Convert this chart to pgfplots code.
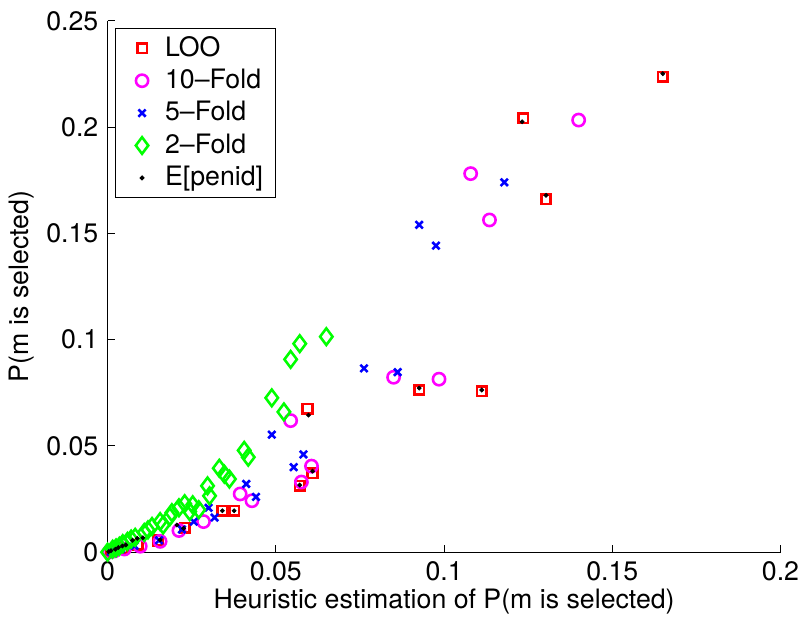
\documentclass[border=0pt]{standalone}
\usepackage{fontspec}
\setmainfont{TeX Gyre Heros}
\usepackage{pgfplots}
\pgfplotsset{compat=1.18}
\definecolor{mred}{rgb}{1,0,0}
\definecolor{mmag}{rgb}{1,0,1}
\definecolor{mblue}{rgb}{0,0,1}
\definecolor{mgreen}{rgb}{0,1,0}
\begin{document}
\fontsize{13.5}{16}\selectfont
\begin{tikzpicture}
\begin{axis}[
  scale only axis, width=340pt, height=268.5pt,
  xmin=0, xmax=0.2, ymin=0, ymax=0.25,
  axis x line*=bottom, axis y line*=left,
  axis line style={black, line width=0.5pt},
  tick align=inside, major tick length=3.5pt,
  tick style={black, line width=0.5pt},
  xtick={0,0.05,0.1,0.15,0.2}, xticklabels={0,0.05,0.1,0.15,0.2},
  ytick={0,0.05,0.1,0.15,0.2,0.25}, yticklabels={0,0.05,0.1,0.15,0.2,0.25},
  ticklabel style={font=\fontsize{13.5}{16}\selectfont},
  xlabel={Heuristic estimation of P(m is selected)},
  ylabel={P(m is selected)},
  label style={font=\fontsize{13.5}{16}\selectfont},
  xlabel style={at={(axis description cs:0.5,0)}, anchor=center, yshift=-25pt},
  ylabel style={at={(axis description cs:-0.128,0.5)}, anchor=center},
  clip=false,
  legend style={at={(axis description cs:0.0103,0.987)}, anchor=north west,
    draw=black, line width=0.5pt, inner xsep=4pt, inner ysep=2pt,
    font=\fontsize{13.5}{16}\selectfont, row sep=0.5pt},
  legend cell align=left,
  legend image code/.code={\path (0pt,0pt) (18pt,0pt);
    \draw[mark repeat=2,mark phase=2,#1] plot coordinates {(0pt,0pt)(9pt,0pt)(18pt,0pt)};},
]
\addplot[only marks, mark=square, mark size=2.4pt, mred, line width=1.3pt] table {
0.1650 0.2237
0.1235 0.2042
0.1303 0.1660
0.0926 0.0763
0.1112 0.0758
0.0594 0.0674
0.0609 0.0372
0.0571 0.0312
0.0376 0.0195
0.0341 0.0195
0.0229 0.0116
0.0150 0.0055
0.0090 0.0035
0.0045 0.0018
0.0010 0.0004
};
\addlegendentry{LOO}
\addplot[only marks, mark=o, mark size=3.1pt, mmag, line width=1.3pt] table {
0.1400 0.2033
0.1079 0.1781
0.1135 0.1563
0.0850 0.0823
0.0985 0.0814
0.0544 0.0619
0.0606 0.0405
0.0576 0.0330
0.0429 0.0242
0.0394 0.0274
0.0285 0.0144
0.0212 0.0102
0.0156 0.0051
0.0097 0.0028
0.0050 0.0015
0.0020 0.0006
0.0005 0.0001
};
\addlegendentry{10--Fold}
\addplot[only marks, mark=x, mark size=2.6pt, mblue, line width=1.3pt] table {
0.1179 0.1740
0.0926 0.1540
0.0976 0.1442
0.0762 0.0865
0.0862 0.0847
0.0488 0.0553
0.0582 0.0460
0.0553 0.0400
0.0412 0.0321
0.0441 0.0260
0.0318 0.0163
0.0300 0.0209
0.0256 0.0144
0.0221 0.0107
0.0153 0.0056
0.0080 0.0030
0.0040 0.0015
0.0010 0.0003
};
\addlegendentry{5--Fold}
\addplot[only marks, mark=diamond, mark size=4.2pt, mgreen, line width=1.3pt] table {
0.0650 0.1014
0.0571 0.0981
0.0544 0.0907
0.0488 0.0726
0.0524 0.0660
0.0418 0.0447
0.0406 0.0479
0.0332 0.0395
0.0347 0.0367
0.0362 0.0344
0.0297 0.0312
0.0303 0.0265
0.0229 0.0228
0.0253 0.0223
0.0271 0.0200
0.0244 0.0191
0.0191 0.0186
0.0212 0.0209
0.0185 0.0167
0.0165 0.0128
0.0156 0.0144
0.0132 0.0121
0.0120 0.0105
0.0109 0.0093
0.0082 0.0070
0.0070 0.0062
0.0059 0.0051
0.0045 0.0040
0.0035 0.0028
0.0025 0.0020
0.0015 0.0014
0.0000 0.0000
};
\addlegendentry{2--Fold}
\addplot[only marks, mark=*, mark size=1pt, black] table {
0.1650 0.2251
0.1232 0.2025
0.1303 0.1679
0.0926 0.0772
0.1112 0.0763
0.0597 0.0645
0.0609 0.0381
0.0571 0.0316
0.0376 0.0195
0.0341 0.0195
0.0226 0.0112
0.0206 0.0128
0.0156 0.0058
0.0105 0.0068
0.0088 0.0065
0.0074 0.0056
0.0054 0.0034
0.0044 0.0029
0.0032 0.0022
0.0023 0.0014
0.0010 0.0007
0.0003 0.0002
};
\addlegendentry{E[penid]}
\end{axis}
\path (-52.5pt,-33pt) rectangle (351.5pt,279pt);
\end{tikzpicture}
\end{document}
